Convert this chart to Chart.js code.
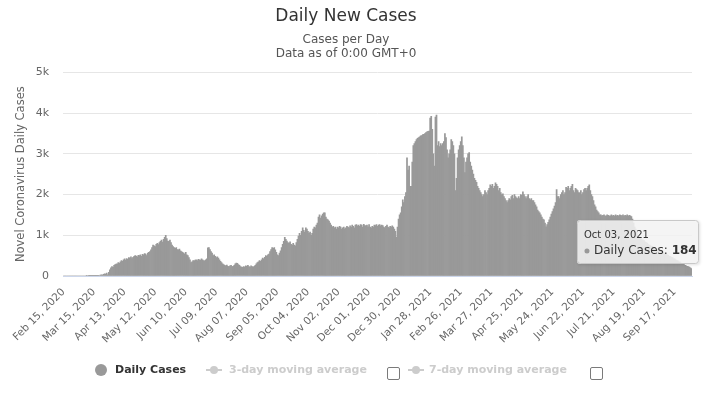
<!DOCTYPE html>
<html>
<head>
<meta charset="utf-8">
<script src="https://cdn.jsdelivr.net/npm/chart.js@4.4.0/dist/chart.umd.min.js"></script>
<style>
  html, body { margin: 0; padding: 0; background: #fff; }
  #wrap { position: relative; width: 716px; height: 394px; font-family: 'DejaVu Sans', sans-serif; }
  #chart { position: absolute; left: 0; top: 0; }
  .lg { position: absolute; font-size: 11px; font-weight: bold; white-space: nowrap; line-height: 14px; }
  .dot { position: absolute; width: 12px; height: 12px; border-radius: 50%; background: #999; }
  .sym { position: absolute; width: 16px; height: 2px; background: #ccc; }
  .sym::after { content: ''; position: absolute; left: 4px; top: -3px; width: 8px; height: 8px; border-radius: 50%; background: #ccc; }
  .box { position: absolute; width: 11px; height: 11px; border: 1px solid #7a7a7a; border-radius: 2px; background: #fff; }
</style>
</head>
<body>
<div id="wrap">
  <canvas id="chart" width="716" height="394"></canvas>
  <div class="dot" style="left:95px; top:364px;"></div>
  <div class="lg" style="left:115px; top:363px; color:#333;">Daily Cases</div>
  <div class="sym" style="left:206px; top:369px;"></div>
  <div class="lg" style="left:229px; top:363px; color:#ccc;">3-day moving average</div>
  <div class="box" style="left:387px; top:367px;"></div>
  <div class="sym" style="left:408px; top:369px;"></div>
  <div class="lg" style="left:429px; top:363px; color:#ccc;">7-day moving average</div>
  <div class="box" style="left:590px; top:367px;"></div>
</div>
<script>
// ── Data ──
const startDate = [2020, 1, 15]; // Feb 15, 2020 (month is 0-based)
const monthNames = ['Jan','Feb','Mar','Apr','May','Jun','Jul','Aug','Sep','Oct','Nov','Dec'];

const tickLabels = [
    'Feb 15, 2020','Mar 15, 2020','Apr 13, 2020','May 12, 2020','Jun 10, 2020','Jul 09, 2020',
    'Aug 07, 2020','Sep 05, 2020','Oct 04, 2020','Nov 02, 2020','Dec 01, 2020','Dec 30, 2020',
    'Jan 28, 2021','Feb 26, 2021','Mar 27, 2021','Apr 25, 2021','May 24, 2021','Jun 22, 2021',
    'Jul 21, 2021','Aug 19, 2021','Sep 17, 2021'
];

const dailyCases = [
    0,0,0,0,0,0,0,0,0,0,
    0,0,0,0,0,0,0,0,0,0,
    0,0,1,0,2,1,3,2,5,4,
    6,8,10,14,12,20,28,25,40,55,
    48,70,30,90,150,200,230,210,260,280,
    290,300,330,310,350,380,360,400,420,390,
    430,410,450,440,470,430,460,480,500,490,
    470,510,500,520,480,530,520,550,540,500,
    560,580,600,640,700,760,740,720,780,800,
    770,820,850,880,830,900,950,1000,920,860,
    850,880,820,760,720,700,680,700,650,640,
    660,620,600,580,560,540,580,520,500,450,
    400,330,350,380,370,390,400,380,410,400,
    390,420,400,380,370,400,420,690,700,650,
    600,560,500,520,480,450,470,440,400,360,
    330,300,280,260,250,270,240,230,250,260,
    230,240,260,300,320,310,280,260,230,220,
    210,230,220,250,240,260,230,220,250,230,
    220,240,260,300,330,350,380,360,400,440,
    420,460,500,480,520,540,600,650,700,680,
    700,640,580,520,500,560,620,700,780,850,
    950,900,860,820,800,840,780,760,800,760,
    740,820,900,980,1050,1000,1100,1180,1120,1080,
    1180,1150,1100,1050,1080,1000,1050,1150,1200,1180,
    1250,1300,1450,1500,1420,1480,1520,1550,1550,1450,
    1400,1380,1350,1300,1250,1200,1220,1180,1200,1150,
    1200,1180,1220,1200,1150,1180,1200,1160,1180,1220,
    1200,1180,1230,1200,1250,1220,1180,1250,1260,1230,
    1250,1220,1260,1250,1200,1270,1240,1230,1250,1210,
    1260,1200,1180,1220,1200,1250,1240,1260,1220,1250,
    1260,1230,1250,1240,1200,1180,1220,1250,1200,1180,
    1220,1200,1230,1200,1150,1100,950,1200,1400,1500,
    1550,1700,1870,1800,1950,2050,2900,2600,2700,2200,
    2200,2800,3200,3250,3300,3350,3380,3400,3420,3440,
    3450,3470,3480,3500,3520,3540,3550,3560,3880,3920,
    3600,3000,2700,3900,3950,3200,3300,3180,3250,3200,
    3250,3300,3500,3400,3100,2900,3000,3100,3350,3300,
    3200,3000,2100,2400,2900,3100,3200,3300,3420,3200,
    2900,2540,2800,2900,3000,3030,2800,2700,2600,2500,
    2400,2350,2300,2200,2150,2100,2050,2000,1950,2000,
    2100,2050,2000,2100,2150,2240,2200,2250,2150,2200,
    2290,2250,2200,2100,2150,2050,2000,2020,1950,1900,
    1850,1800,1850,1900,1870,1950,1980,1900,2000,1950,
    1920,1900,1950,1900,2000,1980,2070,2000,1950,1900,
    1950,2000,1900,1870,1900,1850,1850,1800,1750,1700,
    1620,1580,1550,1500,1450,1400,1380,1300,1210,1260,
    1320,1380,1450,1520,1580,1650,1720,1800,2120,1950,
    1950,1900,2000,2050,2100,2000,2050,2180,2150,2200,
    2100,2150,2200,2250,2100,2050,2150,2120,2100,2050,
    2040,2100,2000,2050,2120,2150,2100,2150,2200,2240,
    2100,2000,1950,1850,1750,1700,1620,1580,1550,1500,
    1500,1480,1490,1500,1470,1480,1500,1490,1470,1480,
    1500,1480,1490,1470,1500,1480,1490,1470,1500,1490,
    1480,1500,1470,1490,1480,1500,1470,1490,1480,1460,
    1400,1300,1200,1150,1080,1000,990,940,930,890,
    880,870,830,820,810,770,760,750,720,730,
    700,690,670,660,660,630,620,610,580,580,
    560,550,530,520,510,480,480,460,450,420,
    420,400,380,370,350,340,320,310,290,280,
    260,250,240,230,220,200,184
];

// ── Category labels: one per day from the start date ──
const dayLabels = dailyCases.map(function (_, i) {
    const d = new Date(Date.UTC(startDate[0], startDate[1], startDate[2] + i));
    const dd = String(d.getUTCDate()).padStart(2, '0');
    return monthNames[d.getUTCMonth()] + ' ' + dd + ', ' + d.getUTCFullYear();
});

const barColor = '#999999';
const font = "'DejaVu Sans', sans-serif";
Chart.defaults.font.family = font;
Chart.defaults.color = '#666';

// ── Fixed tooltip on the last bar (like the hovered point in the screenshot) ──
const lastPointTooltip = {
    id: 'lastPointTooltip',
    afterDraw(chart) {
        const meta = chart.getDatasetMeta(0);
        const i = dailyCases.length - 1;
        const bar = meta.data[i];
        if (!bar) return;
        const ctx = chart.ctx;
        const w = 122, h = 44;
        const left = bar.x - 114.5, top = bar.y - 48.5;
        ctx.save();
        ctx.shadowColor = 'rgba(0,0,0,0.15)';
        ctx.shadowBlur = 3;
        ctx.shadowOffsetX = 1;
        ctx.shadowOffsetY = 1;
        ctx.fillStyle = 'rgba(247,247,247,0.85)';
        ctx.beginPath();
        ctx.roundRect(left, top, w, h, 3);
        ctx.fill();
        ctx.shadowColor = 'transparent';
        ctx.strokeStyle = '#c8c8c8';
        ctx.lineWidth = 1;
        ctx.beginPath();
        ctx.roundRect(left + 0.5, top + 0.5, w - 1, h - 1, 3);
        ctx.stroke();

        ctx.fillStyle = '#333';
        ctx.textBaseline = 'middle';
        ctx.font = "10px " + font;
        ctx.fillText(dayLabels[i], left + 7, top + 15);

        ctx.fillStyle = barColor;
        ctx.beginPath();
        ctx.arc(left + 10, top + 31, 2.5, 0, Math.PI * 2);
        ctx.fill();

        ctx.fillStyle = '#333';
        ctx.font = "12px " + font;
        const lbl = 'Daily Cases: ';
        ctx.fillText(lbl, left + 17, top + 31);
        const lw = ctx.measureText(lbl).width;
        ctx.font = "bold 12px " + font;
        ctx.fillText(String(dailyCases[i]), left + 17 + lw, top + 31);
        ctx.restore();
    }
};

new Chart(document.getElementById('chart'), {
    type: 'bar',
    data: {
        labels: dayLabels,
        datasets: [{
            label: 'Daily Cases',
            data: dailyCases,
            backgroundColor: barColor,
            borderWidth: 0,
            barPercentage: 1,
            categoryPercentage: 1
        }]
    },
    options: {
        responsive: false,
        animation: false,
        events: [],
        layout: { padding: { left: 0, right: 24, top: 0, bottom: 0 } },
        plugins: {
            legend: { display: false },
            tooltip: { enabled: false },
            title: {
                display: true,
                text: 'Daily New Cases',
                color: '#333',
                font: { size: 17, weight: 'normal', lineHeight: 1.2 },
                padding: { top: 6, bottom: 6 }
            },
            subtitle: {
                display: true,
                text: ['Cases per Day', 'Data as of 0:00 GMT+0'],
                color: '#555',
                font: { size: 12, lineHeight: '14px' },
                padding: { top: 0, bottom: 12 }
            }
        },
        scales: {
            x: {
                grid: { display: false },
                border: { color: '#ccd6eb' },
                ticks: {
                    autoSkip: false,
                    maxRotation: 45,
                    minRotation: 45,
                    padding: 2,
                    font: { size: 10.5 },
                    callback: function (v, i) {
                        return tickLabels.indexOf(dayLabels[i]) >= 0 ? dayLabels[i] : null;
                    }
                },
                afterFit: function (s) { s.height = 118; }
            },
            y: {
                min: 0,
                max: 5000,
                grid: { color: '#e6e6e6', drawTicks: false },
                border: { display: false },
                ticks: {
                    stepSize: 1000,
                    padding: 14,
                    font: { size: 11 },
                    callback: function (v) { return v === 0 ? '0' : (v / 1000) + 'k'; }
                },
                title: {
                    display: true,
                    text: 'Novel Coronavirus Daily Cases',
                    font: { size: 11.5 },
                    color: '#666',
                    padding: { top: 14, bottom: 0 }
                },
                afterFit: function (s) { s.width = 63; }
            }
        }
    },
    plugins: [lastPointTooltip]
});
</script>
</body>
</html>
